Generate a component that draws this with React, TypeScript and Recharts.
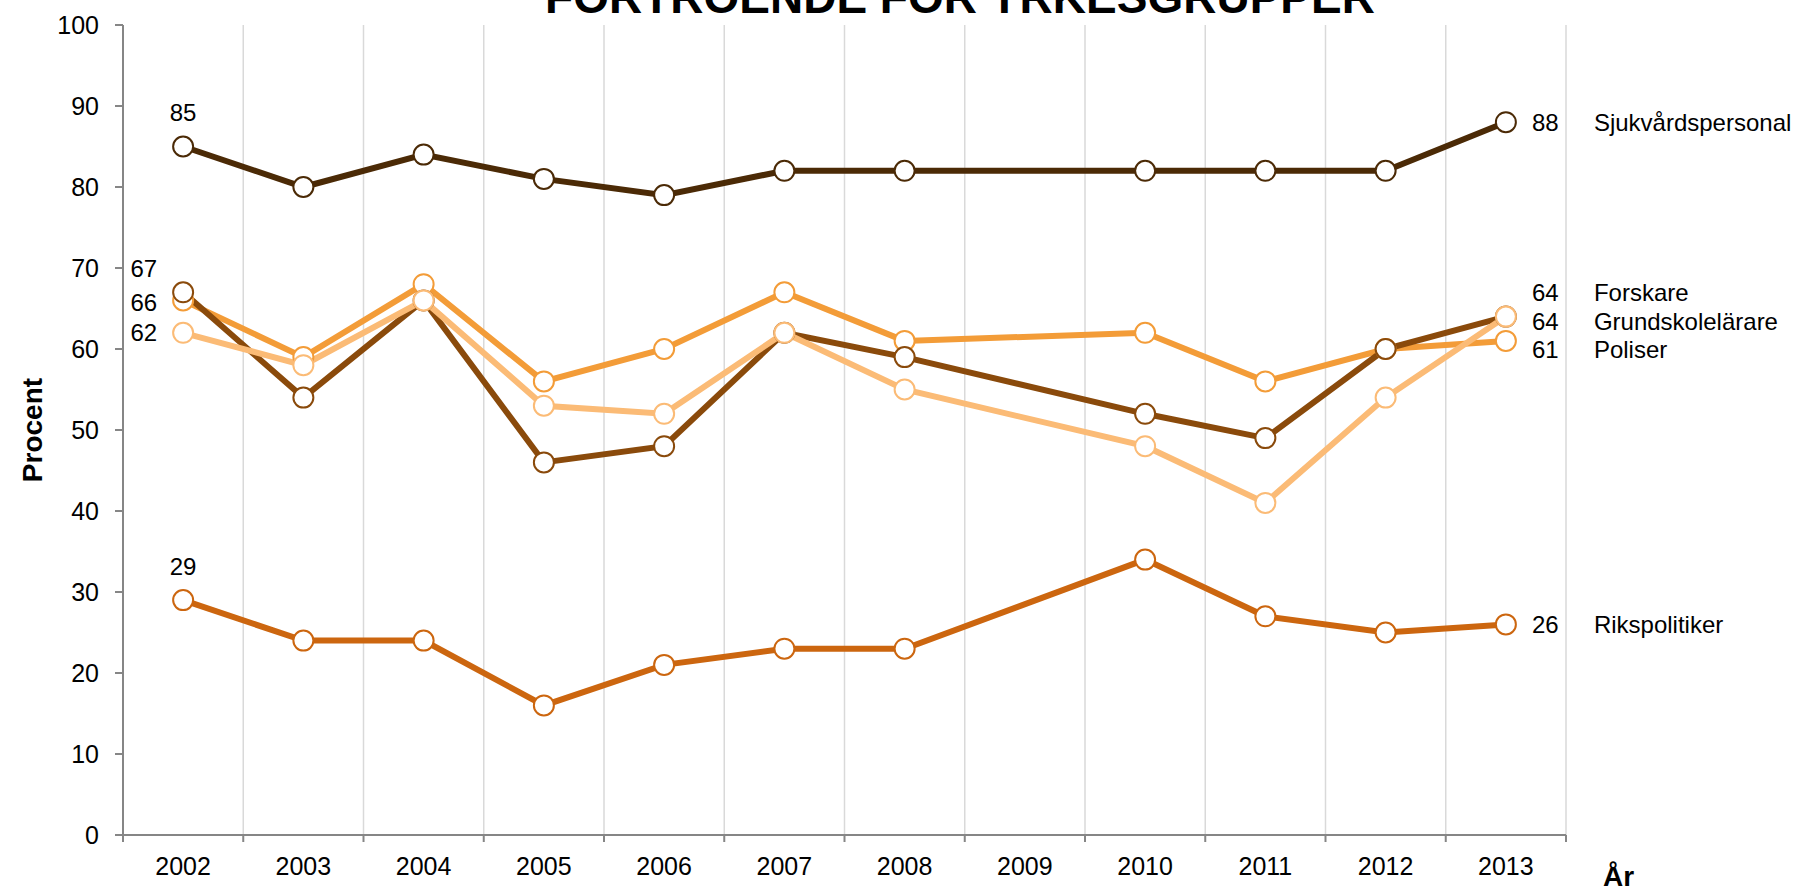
import React from "react";
import { CartesianGrid, Label, LabelList, Line, LineChart, XAxis, YAxis } from "recharts";

const W = 1796;
const H = 888;
const MARGIN = { top: 25, right: 230, bottom: 0, left: 0 };
const Y_AXIS_W = 123;
const X_AXIS_H = 53;
const FONT = "Arial, 'Liberation Sans', sans-serif";

const years = ["2002", "2003", "2004", "2005", "2006", "2007", "2008", "2009", "2010", "2011", "2012", "2013"];

// 2009 saknas i undersökningen -> null, linjen dras förbi
const sjukvard = [85, 80, 84, 81, 79, 82, 82, null, 82, 82, 82, 88];
const forskare = [62, 58, 66, 53, 52, 62, 55, null, 48, 41, 54, 64];
const grundskola = [67, 54, 66, 46, 48, 62, 59, null, 52, 49, 60, 64];
const poliser = [66, 59, 68, 56, 60, 67, 61, null, 62, 56, 60, 61];
const riks = [29, 24, 24, 16, 21, 23, 23, null, 34, 27, 25, 26];

const yTicks = [0, 10, 20, 30, 40, 50, 60, 70, 80, 90, 100];

type Series = {
  key: string;
  name: string;
  color: string;
  values: (number | null)[];
  start: { dx: number; dy: number; anchor: "start" | "middle" | "end" };
  endDy: number;
};

// ritordning: senare serier hamnar överst
const series: Series[] = [
  { key: "riks", name: "Rikspolitiker", color: "#cc660f", values: riks, start: { dx: 0, dy: -34, anchor: "middle" }, endDy: 0 },
  { key: "poliser", name: "Poliser", color: "#f39c38", values: poliser, start: { dx: -26, dy: 2, anchor: "end" }, endDy: 9 },
  { key: "grund", name: "Grundskolelärare", color: "#8a4a0b", values: grundskola, start: { dx: -26, dy: -24, anchor: "end" }, endDy: 5 },
  { key: "forskare", name: "Forskare", color: "#fbbb76", values: forskare, start: { dx: -26, dy: 0, anchor: "end" }, endDy: -24 },
  { key: "sjukvard", name: "Sjukvårdspersonal", color: "#4b2a06", values: sjukvard, start: { dx: 0, dy: -34, anchor: "middle" }, endDy: 0 },
];

const data = years.map((year, i) => {
  const row: Record<string, string | number | null> = { year };
  series.forEach((s) => (row[s.key] = s.values[i]));
  return row;
});

const plotW = W - MARGIN.left - MARGIN.right - Y_AXIS_W;
const step = plotW / years.length;

function YearTick(props: any) {
  const { x, y, payload, index } = props;
  const left = x - step / 2;
  return (
    <g>
      <line x1={left} x2={left} y1={y} y2={y + 7} stroke="#868686" strokeWidth={2} />
      {index === years.length - 1 && (
        <line x1={x + step / 2} x2={x + step / 2} y1={y} y2={y + 7} stroke="#868686" strokeWidth={2} />
      )}
      <text x={x} y={y + 40} textAnchor="middle" fontSize={25} fill="#000" fontFamily={FONT}>
        {payload.value}
      </text>
    </g>
  );
}

function endLabels(s: Series) {
  const last = years.length - 1;
  return (props: any) => {
    const { x, y, value, index } = props;
    if (value == null) return null;
    if (index === 0) {
      return (
        <text x={x + s.start.dx} y={y + s.start.dy} dy="0.355em" textAnchor={s.start.anchor} fontSize={24} fill="#000" fontFamily={FONT}>
          {value}
        </text>
      );
    }
    if (index === last) {
      return (
        <g>
          <text x={x + 26} y={y + s.endDy} dy="0.355em" fontSize={24} fill="#000" fontFamily={FONT}>
            {value}
          </text>
          <text x={x + 88} y={y + s.endDy} dy="0.355em" fontSize={24} fill="#000" fontFamily={FONT}>
            {s.name}
          </text>
        </g>
      );
    }
    return null;
  };
}

export default function App() {
  return (
    <div style={{ position: "absolute", left: 0, top: 0, width: W, height: H, background: "#fff", fontFamily: FONT }}>
      <LineChart width={W} height={H} data={data} margin={MARGIN}>
        <CartesianGrid
          horizontal={false}
          stroke="#d9d9d9"
          strokeWidth={1.5}
          verticalCoordinatesGenerator={({ offset }: any) =>
            years.map((_, i) => offset.left + (i + 1) * (offset.width / years.length))
          }
        />
        <XAxis
          dataKey="year"
          height={X_AXIS_H}
          padding={{ left: step / 2, right: step / 2 }}
          tickLine={false}
          tickSize={0}
          tickMargin={0}
          axisLine={{ stroke: "#868686", strokeWidth: 2 }}
          tick={<YearTick />}
          interval={0}
        >
          <Label
            content={({ viewBox }: any) => (
              <text x={viewBox.x + viewBox.width + 37} y={H - 2} fontSize={28} fontWeight="bold" fill="#000" fontFamily={FONT}>
                År
              </text>
            )}
          />
        </XAxis>
        <YAxis
          width={Y_AXIS_W}
          domain={[0, 100]}
          ticks={yTicks}
          interval={0}
          tickSize={8}
          tickMargin={16}
          tick={{ fontSize: 25, fill: "#000", fontFamily: FONT }}
          tickLine={{ stroke: "#868686", strokeWidth: 2 }}
          axisLine={{ stroke: "#868686", strokeWidth: 2 }}
        >
          <Label
            content={({ viewBox }: any) => {
              const cx = viewBox.x + 32;
              const cy = viewBox.y + viewBox.height / 2;
              return (
                <text x={cx} y={cy} transform={`rotate(-90 ${cx} ${cy})`} textAnchor="middle" dy="0.355em" fontSize={28} fontWeight="bold" fill="#000" fontFamily={FONT}>
                  Procent
                </text>
              );
            }}
          />
        </YAxis>
        {series.map((s) => (
          <Line
            key={s.key}
            type="linear"
            dataKey={s.key}
            name={s.name}
            stroke={s.color}
            strokeWidth={6}
            connectNulls
            dot={{ r: 10, fill: "#fff", stroke: s.color, strokeWidth: 2 }}
            activeDot={false}
            isAnimationActive={false}
          >
            <LabelList dataKey={s.key} content={endLabels(s)} />
          </Line>
        ))}
      </LineChart>
      <svg width={W} height={60} style={{ position: "absolute", left: 0, top: 0, pointerEvents: "none" }}>
        <text x={960} y={13} textAnchor="middle" fontSize={46} fontWeight="bold" fill="#000" fontFamily={FONT}>
          FÖRTROENDE FÖR YRKESGRUPPER
        </text>
      </svg>
    </div>
  );
}
